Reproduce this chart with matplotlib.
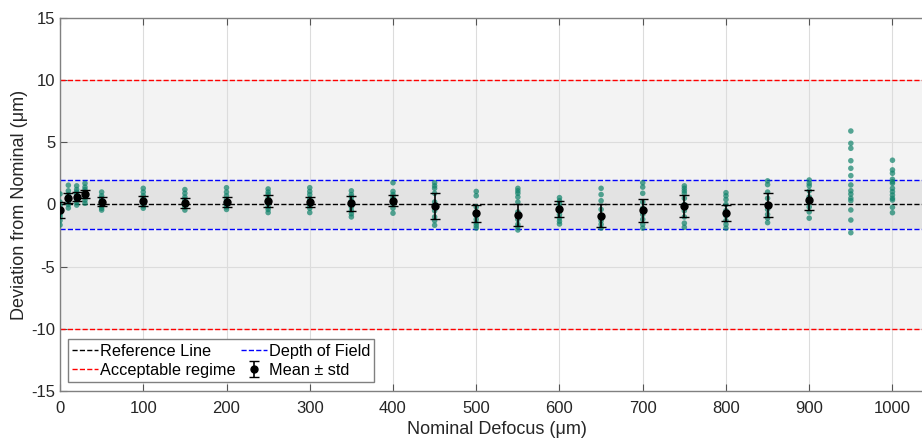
import numpy as np
import matplotlib
matplotlib.use("Agg")
import matplotlib.pyplot as plt

plt.rcParams['font.family'] = ['Liberation Sans', 'DejaVu Sans']
plt.rcParams['axes.unicode_minus'] = False

# nominal defocus positions (um)
defocus = [0, 10, 20, 30, 50, 100, 150, 200, 250, 300, 350, 400, 450, 500,
           550, 600, 650, 700, 750, 800, 850, 900, 950, 1000]

# individual measured deviations per position (um)
samples = [
    [0.85, 0.2, -0.1, -0.4, -0.6, -0.8, -1.0, -1.3, -1.65],
    [1.55, 1.1, 0.8, 0.6, 0.4, 0.2, 0.0, -0.28],
    [1.5, 1.2, 1.0, 0.8, 0.6, 0.4, 0.2, -0.05],
    [1.7, 1.4, 1.2, 1.0, 0.8, 0.6, 0.35, 0.1],
    [1.0, 0.7, 0.5, 0.3, 0.1, -0.1, -0.3, -0.45],
    [1.3, 1.0, 0.7, 0.5, 0.3, 0.1, -0.1, -0.3],
    [1.2, 0.9, 0.6, 0.4, 0.2, 0.0, -0.2, -0.45],
    [1.35, 1.0, 0.7, 0.4, 0.2, 0.0, -0.2, -0.4],
    [1.25, 1.0, 0.8, 0.5, 0.3, 0.1, -0.2, -0.4, -0.65],
    [1.35, 1.05, 0.8, 0.5, 0.3, 0.1, -0.1, -0.3, -0.65],
    [1.1, 0.8, 0.6, 0.3, 0.1, -0.2, -0.5, -0.75, -1.0],
    [1.75, 1.05, 0.8, 0.6, 0.4, 0.2, 0.0, -0.3, -0.7],
    [1.75, 1.5, 1.3, 0.9, 0.2, -0.5, -1.0, -1.3, -1.67],
    [1.05, 0.7, -0.2, -0.6, -0.9, -1.2, -1.5, -1.7, -1.9],
    [1.3, 1.1, 0.9, 0.6, 0.2, -0.6, -1.2, -1.6, -1.8, -2.05],
    [0.55, 0.3, 0.1, -0.2, -0.5, -0.8, -1.1, -1.35, -1.57],
    [1.3, 0.8, 0.3, -0.4, -0.9, -1.3, -1.6, -1.9],
    [1.75, 1.4, 0.9, 0.2, -0.3, -0.8, -1.2, -1.6, -1.9],
    [1.5, 1.3, 1.1, 0.9, 0.5, 0.0, -0.5, -1.0, -1.5, -1.83],
    [0.95, 0.7, 0.4, 0.0, -0.5, -0.9, -1.3, -1.6, -1.9],
    [1.9, 1.6, 1.0, 0.5, 0.0, -0.4, -0.8, -1.1, -1.46],
    [1.97, 1.7, 1.5, 1.1, 0.6, 0.2, -0.2, -0.6, -1.1],
    [5.91, 4.92, 4.52, 3.52, 2.91, 2.32, 1.57, 1.11, 0.84, 0.5, 0.31, -0.44, -1.25, -2.27],
    [3.56, 2.78, 2.51, 2.03, 1.83, 1.7, 1.3, 1.03, 0.76, 0.5, 0.36, -0.23, -0.66],
]

# mean and std (no bars at 950 and 1000)
mean_dev = [-0.44, 0.5, 0.63, 0.84, 0.23, 0.28, 0.15, 0.18, 0.28, 0.2, 0.1, 0.3,
            -0.12, -0.71, -0.87, -0.36, -0.9, -0.47, -0.1, -0.68, -0.04, 0.36,
            np.nan, np.nan]
std_dev = [0.63, 0.4, 0.35, 0.35, 0.35, 0.4, 0.4, 0.4, 0.45, 0.4, 0.6, 0.45,
           1.07, 0.68, 0.9, 0.67, 0.94, 0.94, 0.9, 0.62, 0.94, 0.83,
           np.nan, np.nan]

dof = 2
acceptable = 10

fig = plt.figure(figsize=(9.22, 4.4), dpi=100)
ax = fig.add_axes([0.0651, 0.1114, 0.948, 0.8477])

xlim = (0, 1050)
ax.fill_between(xlim, -acceptable, acceptable, color='#f3f3f3', zorder=0, lw=0)
ax.fill_between(xlim, -dof, dof, color='#e3e3e3', zorder=0, lw=0)

for x, vals in zip(defocus, samples):
    ax.scatter([x] * len(vals), vals, s=16, color='#10836b', alpha=0.7,
               edgecolors='none', zorder=3)

ax.axhline(0, color='black', ls='--', lw=1, label='Reference Line', zorder=2)
ax.axhline(acceptable, color='red', ls='--', lw=1, label='Acceptable regime', zorder=2)
ax.axhline(-acceptable, color='red', ls='--', lw=1, zorder=2)
ax.axhline(dof, color='blue', ls='--', lw=1, label='Depth of Field', zorder=2)
ax.axhline(-dof, color='blue', ls='--', lw=1, zorder=2)

ax.errorbar(defocus, mean_dev, yerr=std_dev, fmt='o', color='black', ms=5,
            capsize=3.5, elinewidth=1.2, capthick=1, label='Mean ± std', zorder=4)

ax.set_xlim(*xlim)
ax.set_ylim(-15, 15)
ax.set_xticks(np.arange(0, 1001, 100))
ax.set_yticks([-15, -10, -5, 0, 5, 10, 15])
ax.grid(True, color='#dcdcdc', lw=0.8, zorder=1)
ax.set_axisbelow(True)

for s in ax.spines.values():
    s.set_color('#808080')
    s.set_linewidth(1)
ax.tick_params(direction='in', length=5, top=True, right=True, color='#555555',
               labelcolor='#262626', labelsize=12)
ax.tick_params(axis='x', pad=7)

ax.set_xlabel('Nominal Defocus (μm)', fontsize=13, color='#262626', labelpad=4)
ax.set_ylabel('Deviation from Nominal (μm)', fontsize=13, color='#262626', labelpad=2)

h, l = ax.get_legend_handles_labels()
order = [l.index('Reference Line'), l.index('Acceptable regime'),
         l.index('Depth of Field'), l.index('Mean ± std')]
leg = ax.legend([h[i] for i in order], [l[i] for i in order], ncol=2,
                loc='lower left', bbox_to_anchor=(0.003, 0.012), fontsize=11.7,
                fancybox=False, edgecolor='#808080', framealpha=1,
                handlelength=1.6, handletextpad=0.15, columnspacing=0.3,
                borderpad=0.25, labelspacing=0.25, borderaxespad=0.3)
leg.get_frame().set_linewidth(1)

fig.savefig('out.png', dpi=100)
